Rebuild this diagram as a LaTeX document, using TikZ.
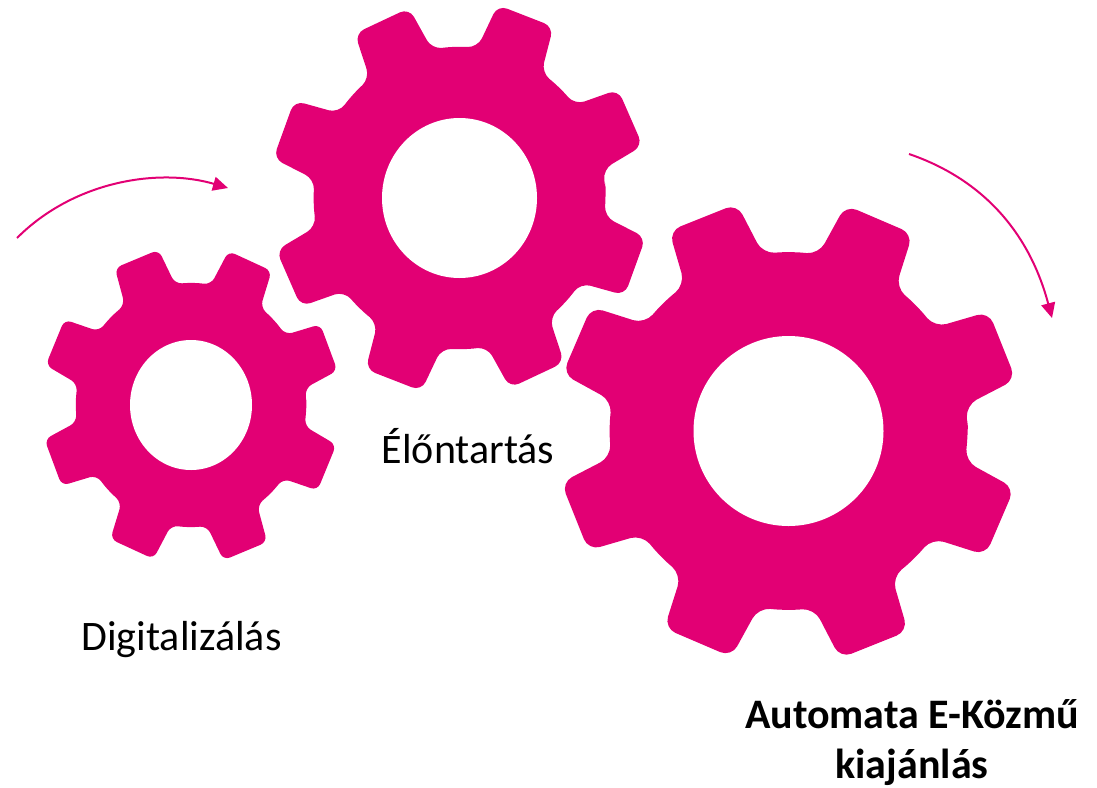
\documentclass[tikz,border=0pt]{standalone}
\usepackage{fontspec}
\setmainfont{Carlito}
\usetikzlibrary{arrows.meta}
\definecolor{magenta}{HTML}{E20074}
\tikzset{
  gearfill/.style={fill=magenta,draw=none,even odd rule},
  turnarrow/.style={draw=magenta,line width=2pt,-{Triangle[length=15pt,width=14pt]}},
  caption/.style={font=\fontsize{42}{50}\selectfont,text=black,align=center,inner sep=0pt,anchor=base}
}
% cx cy rx ry rot corner holerx holery
\newcommand{\gearshape}[8]{%
  \path[gearfill,rounded corners=#6pt]
    ({#1+0.77*#3*cos(#5)},{#2+0.77*#4*sin(#5)})
    \foreach \gi in {0,...,7}{
      \pgfextra{\pgfmathsetmacro{\gc}{\gi*45+22.5+#5}}
      -- ({#1+0.77*#3*cos(\gc-13.5)},{#2+0.77*#4*sin(\gc-13.5)})
      -- ({#1+#3*cos(\gc-9)},{#2+#4*sin(\gc-9)})
      -- ({#1+#3*cos(\gc+9)},{#2+#4*sin(\gc+9)})
      -- ({#1+0.77*#3*cos(\gc+13.5)},{#2+0.77*#4*sin(\gc+13.5)})
      -- ({#1+0.77*#3*cos(\gc+22.5)},{#2+0.77*#4*sin(\gc+22.5)})
    } -- cycle;
  \fill[white] (#1,#2) ellipse [x radius=#7pt,y radius=#8pt];
}
\begin{document}
\begin{tikzpicture}[x=1pt,y=-1pt]
\useasboundingbox (0,0) rectangle (1097,787);
\gearshape{191}{405}{150}{159}{1}{7}{61}{65}
\gearshape{459.5}{198}{190}{197}{-1.9}{10}{77.5}{80}
\gearshape{788.5}{431}{233}{233}{0.7}{12}{95}{95}
\coordinate (a1s) at (17,238);
\coordinate (a1e) at (228,188);
\coordinate (a2s) at (909,154);
\coordinate (a2e) at (1052,318);
\draw[turnarrow] (a1s) .. controls (75,180) and (160,168) .. (a1e);
\draw[turnarrow] (a2s) .. controls (985,180) and (1030,235) .. (a2e);
\node[caption] (elo) at (468,463) {Élőntartás};
\node[caption] (dig) at (181.5,650) {Digitalizálás};
\node[caption,font=\fontsize{42}{50}\selectfont\bfseries] (aut) at (912,778) {Automata E-Közmű\\kiajánlás};
\end{tikzpicture}
\end{document}
